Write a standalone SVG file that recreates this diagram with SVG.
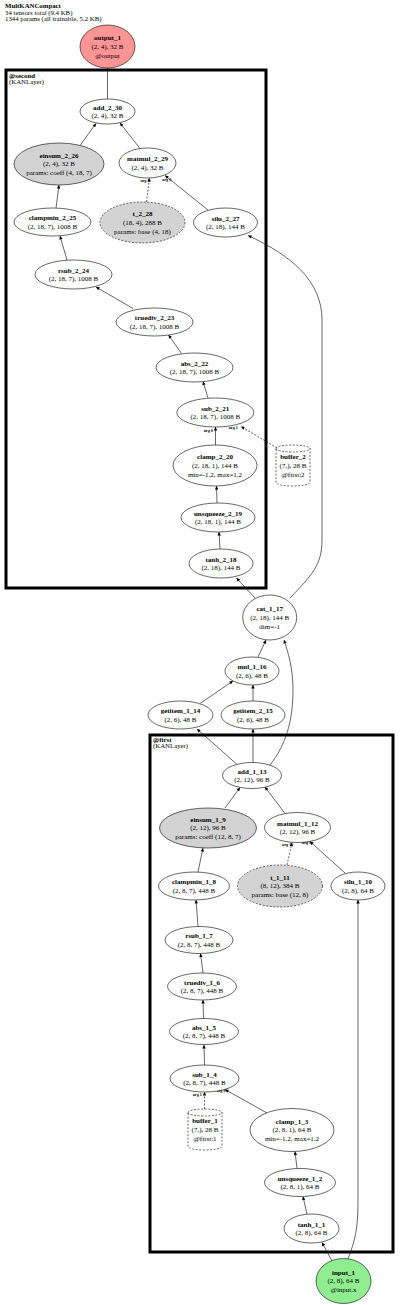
<svg xmlns="http://www.w3.org/2000/svg" width="400" height="1305" viewBox="0 0 400 1305">
<defs>
<marker id="ah" viewBox="0 0 10 10" refX="10" refY="5" markerWidth="4.5" markerHeight="3.5" markerUnits="userSpaceOnUse" orient="auto"><path d="M0,0 L10,5 L0,10 z" fill="#000"/></marker>
</defs>
<style>
text{font-family:"Liberation Serif","Times New Roman",serif;font-size:7px;fill:#000}
.hdr{font-size:6.8px}
.n text{text-anchor:middle}
.b{font-weight:bold}
.node{fill:#fff;stroke:#000;stroke-width:0.6}
.gray{fill:#d3d3d3}
.dash{stroke-dasharray:2,1.5}
.out{fill:#ff9494}
.in{fill:#90ee90}
.cl{fill:none;stroke:#000;stroke-width:3}
.e{fill:none;stroke:#000;stroke-width:0.6}
.ea{marker-end:url(#ah)}
.lab{font-size:4.2px;font-weight:bold;text-anchor:middle}
</style>
<rect width="400" height="1305" fill="#fff"/>
<g id="title">
<text x="5" y="8" class="b hdr">MultKANCompact</text>
<text x="5" y="14.7" class="hdr">34 tensors total (9.4 KB)</text>
<text x="5" y="21.4" class="hdr">1344 params (all trainable, 5.2 KB)</text>
</g>
<g id="cluster_second">
<rect x="6" y="70" width="260" height="518" class="cl"/>
<text x="9" y="77.5" class="b hdr">@second</text>
<text x="9" y="83.7" class="hdr">(KANLayer)</text>
</g>
<g id="cluster_first">
<rect x="150" y="735" width="243" height="517" class="cl"/>
<text x="153" y="742" class="b hdr">@first</text>
<text x="153" y="748.2" class="hdr">(KANLayer)</text>
</g>
<g id="edges">
<line x1="107.5" y1="99" x2="107.5" y2="68" class="e"/>
<line x1="80" y1="145.5" x2="96" y2="123.5" class="e ea"/>
<line x1="140" y1="148.5" x2="120" y2="123" class="e ea"/>
<line x1="56" y1="208" x2="59" y2="185" class="e ea"/>
<line x1="146.5" y1="202" x2="149.5" y2="178" class="e ea dash"/>
<line x1="208" y1="210" x2="165" y2="175.5" class="e ea"/>
<line x1="67" y1="260" x2="60" y2="236" class="e ea"/>
<line x1="133" y1="308.5" x2="96" y2="287" class="e ea"/>
<line x1="181.5" y1="353.5" x2="168.5" y2="335" class="e ea"/>
<line x1="208" y1="398" x2="203" y2="381.5" class="e ea"/>
<line x1="215.5" y1="445" x2="215.5" y2="427" class="e ea"/>
<line x1="277" y1="448" x2="241" y2="426.5" class="e ea dash"/>
<line x1="217" y1="503" x2="216.5" y2="486" class="e ea"/>
<line x1="220" y1="549" x2="219" y2="532" class="e ea"/>
<line x1="255" y1="598" x2="236.5" y2="578" class="e ea"/>
<path d="M290,598 C312,575 322,565 322,540 L322,320 C322,280 290,255 248,235.5" class="e ea"/>
<line x1="258" y1="657" x2="266" y2="640" class="e ea"/>
<line x1="200" y1="703.5" x2="233" y2="681" class="e ea"/>
<line x1="253" y1="701" x2="253" y2="685" class="e ea"/>
<line x1="236.5" y1="764" x2="197" y2="729" class="e ea"/>
<line x1="253" y1="762.5" x2="253" y2="729" class="e ea"/>
<path d="M270,765 C286,745 293,720 293,690 C293,668 288,652 284,640" class="e ea"/>
<line x1="225" y1="808" x2="240" y2="787.5" class="e ea"/>
<line x1="285" y1="813.5" x2="265" y2="787" class="e ea"/>
<line x1="198" y1="872" x2="203" y2="848" class="e ea"/>
<line x1="287" y1="865" x2="292" y2="842.5" class="e ea dash"/>
<line x1="345" y1="873" x2="310" y2="841.5" class="e ea"/>
<line x1="198" y1="926.5" x2="196" y2="900" class="e ea"/>
<line x1="203" y1="973" x2="200.5" y2="953.5" class="e ea"/>
<line x1="203.5" y1="1018" x2="203" y2="1000" class="e ea"/>
<line x1="204.5" y1="1065" x2="204" y2="1045" class="e ea"/>
<line x1="204.5" y1="1109" x2="204.5" y2="1092" class="e ea dash"/>
<line x1="267" y1="1113" x2="225" y2="1089.5" class="e ea"/>
<line x1="297" y1="1168.5" x2="295" y2="1151.5" class="e ea"/>
<line x1="307" y1="1214" x2="303" y2="1196.5" class="e ea"/>
<line x1="332" y1="1261" x2="322" y2="1242.5" class="e ea"/>
<path d="M348,1259 C355,1240 358,1230 358,1200 L358,900" class="e ea"/>
<text x="145" y="181.5" class="lab">arg 1</text>
<text x="166.7" y="181" class="lab">arg 0</text>
<text x="208.3" y="432.2" class="lab">arg 0</text>
<text x="233.3" y="429.2" class="lab">arg 1</text>
<text x="286.7" y="845.8" class="lab">arg 1</text>
<text x="306.7" y="844.2" class="lab">arg 0</text>
<text x="197.3" y="1095.8" class="lab">arg 1</text>
<text x="221" y="1092.2" class="lab">arg 0</text>
</g>
<g id="output_1" class="n"><ellipse cx="107.5" cy="46.5" rx="27.5" ry="21.5" class="node out"/><text x="107.5" y="40.1" class="b">output_1</text><text x="107.5" y="48.9">(2, 4), 32 B</text><text x="107.5" y="57.7">@output</text></g>
<g id="add_2_30" class="n"><ellipse cx="107.5" cy="111.5" rx="27.5" ry="12.5" class="node"/><text x="107.5" y="109.5" class="b">add_2_30</text><text x="107.5" y="118.3">(2, 4), 32 B</text></g>
<g id="einsum_2_26" class="n"><ellipse cx="59" cy="164" rx="45" ry="21" class="node gray"/><text x="59" y="157.6" class="b">einsum_2_26</text><text x="59" y="166.4">(2, 4), 32 B</text><text x="59" y="175.2">params: coeff (4, 18, 7)</text></g>
<g id="matmul_2_29" class="n"><ellipse cx="147.5" cy="163" rx="28.5" ry="15" class="node"/><text x="147.5" y="161" class="b">matmul_2_29</text><text x="147.5" y="169.8">(2, 4), 32 B</text></g>
<g id="clampmin_2_25" class="n"><ellipse cx="52.5" cy="222" rx="38.5" ry="14" class="node"/><text x="52.5" y="220" class="b">clampmin_2_25</text><text x="52.5" y="228.8">(2, 18, 7), 1008 B</text></g>
<g id="t_2_28" class="n"><ellipse cx="142.5" cy="222.5" rx="42.5" ry="20.5" class="node gray dash"/><text x="142.5" y="216.1" class="b">t_2_28</text><text x="142.5" y="224.9">(18, 4), 288 B</text><text x="142.5" y="233.7">params: base (4, 18)</text></g>
<g id="silu_2_27" class="n"><ellipse cx="225.5" cy="222.5" rx="32" ry="14.5" class="node"/><text x="225.5" y="220.5" class="b">silu_2_27</text><text x="225.5" y="229.3">(2, 18), 144 B</text></g>
<g id="rsub_2_24" class="n"><ellipse cx="73.5" cy="274.5" rx="38.5" ry="14.5" class="node"/><text x="73.5" y="272.5" class="b">rsub_2_24</text><text x="73.5" y="281.3">(2, 18, 7), 1008 B</text></g>
<g id="truediv_2_23" class="n"><ellipse cx="154.5" cy="322" rx="38.5" ry="14" class="node"/><text x="154.5" y="320" class="b">truediv_2_23</text><text x="154.5" y="328.8">(2, 18, 7), 1008 B</text></g>
<g id="abs_2_22" class="n"><ellipse cx="194.5" cy="367.5" rx="38.5" ry="14.5" class="node"/><text x="194.5" y="365.5" class="b">abs_2_22</text><text x="194.5" y="374.3">(2, 18, 7), 1008 B</text></g>
<g id="sub_2_21" class="n"><ellipse cx="215.3" cy="412.5" rx="38.5" ry="14.5" class="node"/><text x="215.3" y="410.5" class="b">sub_2_21</text><text x="215.3" y="419.3">(2, 18, 7), 1008 B</text></g>
<g id="clamp_2_20" class="n"><ellipse cx="215" cy="465.5" rx="42" ry="20.5" class="node"/><text x="215" y="459.1" class="b">clamp_2_20</text><text x="215" y="467.9">(2, 18, 1), 144 B</text><text x="215" y="476.7">min=-1.2, max=1.2</text></g>
<g id="buffer_2" class="n"><path d="M276,448.5 A17,3.5 0 0 1 310,448.5 L310,482.5 A17,3.5 0 0 1 276,482.5 Z M276,448.5 A17,3.5 0 0 0 310,448.5" class="node dash"/><text x="293" y="459.1" class="b">buffer_2</text><text x="293" y="467.9">(7,), 28 B</text><text x="293" y="476.7">@first:2</text></g>
<g id="unsqueeze_2_19" class="n"><ellipse cx="218" cy="517.5" rx="37" ry="14.5" class="node"/><text x="218" y="515.5" class="b">unsqueeze_2_19</text><text x="218" y="524.3">(2, 18, 1), 144 B</text></g>
<g id="tanh_2_18" class="n"><ellipse cx="221" cy="563.5" rx="32" ry="14.5" class="node"/><text x="221" y="561.5" class="b">tanh_2_18</text><text x="221" y="570.3">(2, 18), 144 B</text></g>
<g id="cat_1_17" class="n"><ellipse cx="269.7" cy="617.5" rx="27" ry="22.5" class="node"/><text x="269.7" y="611.1" class="b">cat_1_17</text><text x="269.7" y="619.9">(2, 18), 144 B</text><text x="269.7" y="628.7">dim=-1</text></g>
<g id="mul_1_16" class="n"><ellipse cx="252" cy="671" rx="27" ry="14" class="node"/><text x="252" y="669" class="b">mul_1_16</text><text x="252" y="677.8">(2, 6), 48 B</text></g>
<g id="getitem_1_14" class="n"><ellipse cx="180.5" cy="715" rx="32.5" ry="14" class="node"/><text x="180.5" y="713" class="b">getitem_1_14</text><text x="180.5" y="721.8">(2, 6), 48 B</text></g>
<g id="getitem_2_15" class="n"><ellipse cx="253" cy="715" rx="32" ry="14" class="node"/><text x="253" y="713" class="b">getitem_2_15</text><text x="253" y="721.8">(2, 6), 48 B</text></g>
<g id="add_1_13" class="n"><ellipse cx="252" cy="775.5" rx="29.5" ry="13" class="node"/><text x="252" y="773.5" class="b">add_1_13</text><text x="252" y="782.3">(2, 12), 96 B</text></g>
<g id="einsum_1_9" class="n"><ellipse cx="208" cy="828" rx="48.5" ry="20" class="node gray"/><text x="208" y="821.6" class="b">einsum_1_9</text><text x="208" y="830.4">(2, 12), 96 B</text><text x="208" y="839.2">params: coeff (12, 8, 7)</text></g>
<g id="matmul_1_12" class="n"><ellipse cx="297.5" cy="827.5" rx="33" ry="15" class="node"/><text x="297.5" y="825.5" class="b">matmul_1_12</text><text x="297.5" y="834.3">(2, 12), 96 B</text></g>
<g id="clampmin_1_8" class="n"><ellipse cx="194" cy="886" rx="35.5" ry="14" class="node"/><text x="194" y="884" class="b">clampmin_1_8</text><text x="194" y="892.8">(2, 8, 7), 448 B</text></g>
<g id="t_1_11" class="n"><ellipse cx="280" cy="886" rx="42.5" ry="21" class="node gray dash"/><text x="280" y="879.6" class="b">t_1_11</text><text x="280" y="888.4">(8, 12), 384 B</text><text x="280" y="897.2">params: base (12, 8)</text></g>
<g id="silu_1_10" class="n"><ellipse cx="358" cy="886" rx="27" ry="14" class="node"/><text x="358" y="884" class="b">silu_1_10</text><text x="358" y="892.8">(2, 8), 64 B</text></g>
<g id="rsub_1_7" class="n"><ellipse cx="199" cy="940" rx="34" ry="13.5" class="node"/><text x="199" y="938" class="b">rsub_1_7</text><text x="199" y="946.8">(2, 8, 7), 448 B</text></g>
<g id="truediv_1_6" class="n"><ellipse cx="202" cy="986.5" rx="34.5" ry="13.5" class="node"/><text x="202" y="984.5" class="b">truediv_1_6</text><text x="202" y="993.3">(2, 8, 7), 448 B</text></g>
<g id="abs_1_5" class="n"><ellipse cx="204" cy="1031.5" rx="34.5" ry="13" class="node"/><text x="204" y="1029.5" class="b">abs_1_5</text><text x="204" y="1038.3">(2, 8, 7), 448 B</text></g>
<g id="sub_1_4" class="n"><ellipse cx="204.5" cy="1078.5" rx="34.5" ry="13.5" class="node"/><text x="204.5" y="1076.5" class="b">sub_1_4</text><text x="204.5" y="1085.3">(2, 8, 7), 448 B</text></g>
<g id="buffer_1" class="n"><path d="M188,1112.5 A17,3.5 0 0 1 222,1112.5 L222,1146.5 A17,3.5 0 0 1 188,1146.5 Z M188,1112.5 A17,3.5 0 0 0 222,1112.5" class="node dash"/><text x="205" y="1123.1" class="b">buffer_1</text><text x="205" y="1131.9">(7,), 28 B</text><text x="205" y="1140.7">@first:1</text></g>
<g id="clamp_1_3" class="n"><ellipse cx="292" cy="1130" rx="42" ry="21.5" class="node"/><text x="292" y="1123.6" class="b">clamp_1_3</text><text x="292" y="1132.4">(2, 8, 1), 64 B</text><text x="292" y="1141.2">min=-1.2, max=1.2</text></g>
<g id="unsqueeze_1_2" class="n"><ellipse cx="300" cy="1182.5" rx="35.5" ry="14" class="node"/><text x="300" y="1180.5" class="b">unsqueeze_1_2</text><text x="300" y="1189.3">(2, 8, 1), 64 B</text></g>
<g id="tanh_1_1" class="n"><ellipse cx="311.5" cy="1228.5" rx="27.5" ry="14.5" class="node"/><text x="311.5" y="1226.5" class="b">tanh_1_1</text><text x="311.5" y="1235.3">(2, 8), 64 B</text></g>
<g id="input_1" class="n"><ellipse cx="343.5" cy="1281" rx="27.5" ry="22.5" class="node in"/><text x="343.5" y="1274.6" class="b">input_1</text><text x="343.5" y="1283.4">(2, 8), 64 B</text><text x="343.5" y="1292.2">@input.x</text></g>
</svg>
